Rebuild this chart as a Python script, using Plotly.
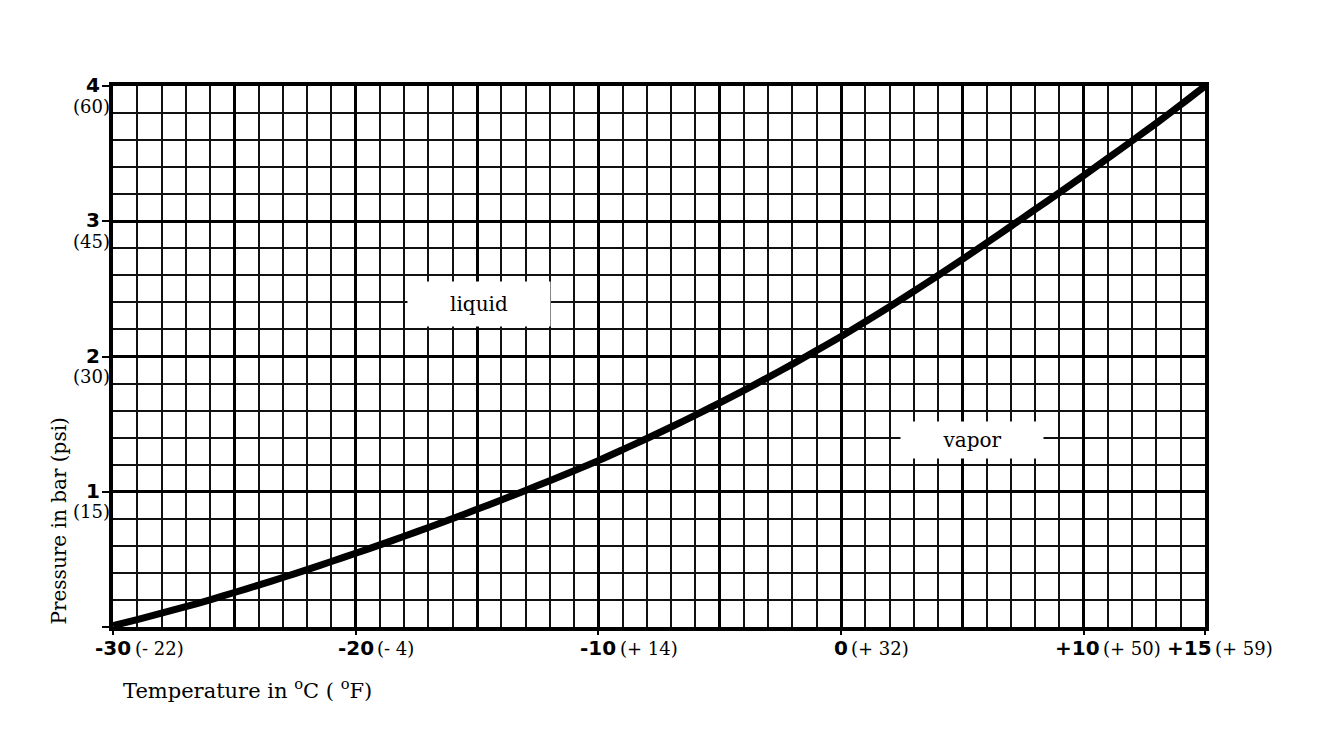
import plotly.graph_objects as go

# ---- data ----
temp_c = list(range(-30, 16))
pressure_bar = [0.010, 0.055, 0.102, 0.150, 0.201, 0.255, 0.310, 0.366, 0.424, 0.484,
                0.545, 0.607, 0.671, 0.736, 0.802, 0.870, 0.939, 1.010, 1.082, 1.155,
                1.230, 1.311, 1.394, 1.479, 1.567, 1.657, 1.750, 1.846, 1.944, 2.045,
                2.148, 2.257, 2.368, 2.482, 2.599, 2.718, 2.840, 2.963, 3.087, 3.212,
                3.338, 3.466, 3.595, 3.726, 3.861, 4.000]

x_tick_c = [-30, -20, -10, 0, 10, 15]
x_tick_c_text = ["-30", "-20", "-10", "0", "+10", "+15"]
x_tick_f_text = ["(- 22)", "(- 4)", "(+ 14)", "(+ 32)", "(+ 50)", "(+ 59)"]

y_tick_bar = [1, 2, 3, 4]
y_tick_bar_text = ["1", "2", "3", "4"]
y_tick_psi_text = ["(15)", "(30)", "(45)", "(60)"]

region_labels = ["liquid", "vapor"]
region_x = [-14.9, 5.4]
region_y = [2.39, 1.38]

BOLD = "DejaVu Sans"
SERIF = "DejaVu Serif"

fig = go.Figure()
fig.add_trace(go.Scatter(
    x=temp_c, y=pressure_bar, mode="lines",
    line=dict(color="black", width=7, shape="spline", smoothing=0.8),
    showlegend=False, hoverinfo="skip"))
# invisible trace that activates the overlay axis carrying the labelled tick marks
fig.add_trace(go.Scatter(x=[x_tick_c[0]], y=[0], xaxis="x2", mode="markers",
                         marker=dict(opacity=0), showlegend=False, hoverinfo="skip"))

annotations = []
char_w = {"-": 9, "+": 17, "0": 14, "1": 14, "2": 14, "3": 14, "5": 14}
label_shift = {10: -6, 15: -16}
for xv, bt, ft in zip(x_tick_c, x_tick_c_text, x_tick_f_text):
    w = sum(char_w.get(c, 14) for c in bt)
    shift = label_shift.get(xv, 0)
    annotations.append(dict(x=xv, y=0, xref="x", yref="paper", text="<b>%s</b>" % bt,
                            showarrow=False, xanchor="center", yanchor="middle",
                            xshift=shift, yshift=-21,
                            font=dict(family=BOLD, size=20, color="black")))
    annotations.append(dict(x=xv, y=0, xref="x", yref="paper", text=ft,
                            showarrow=False, xanchor="left", yanchor="middle",
                            xshift=shift + w / 2 + 1, yshift=-21,
                            font=dict(family=SERIF, size=18, color="black")))

for yv, bt, pt in zip(y_tick_bar, y_tick_bar_text, y_tick_psi_text):
    annotations.append(dict(x=0, y=yv, xref="paper", yref="y", text="<b>%s</b>" % bt,
                            showarrow=False, xanchor="right", yanchor="middle",
                            xshift=-11, yshift=1,
                            font=dict(family=BOLD, size=20, color="black")))
    annotations.append(dict(x=0, y=yv, xref="paper", yref="y", text=pt,
                            showarrow=False, xanchor="right", yanchor="middle",
                            xshift=-1, yshift=-20,
                            font=dict(family=SERIF, size=18, color="black")))

annotations.append(dict(x=0, y=0, xref="paper", yref="paper",
                        text="Temperature in <sup>o</sup>C ( <sup>o</sup>F)",
                        showarrow=False, xanchor="left", yanchor="middle",
                        xshift=8, yshift=-62,
                        font=dict(family=SERIF, size=21, color="black")))
annotations.append(dict(x=0, y=0, xref="paper", yref="paper",
                        text="Pressure in bar (psi)", textangle=-90,
                        showarrow=False, xanchor="center", yanchor="bottom",
                        xshift=-55, yshift=0,
                        font=dict(family=SERIF, size=20, color="black")))

box_w = [140, 140]
box_h = [42, 34]
for t, xv, yv, bw, bh in zip(region_labels, region_x, region_y, box_w, box_h):
    annotations.append(dict(x=xv, y=yv, xref="x", yref="y", text=t, showarrow=False,
                            bgcolor="white", width=bw, height=bh,
                            font=dict(family=SERIF, size=20, color="black")))

fig.update_layout(
    width=1328, height=754,
    margin=dict(l=105, r=131, t=78, b=135),
    paper_bgcolor="white", plot_bgcolor="white",
    showlegend=False,
    annotations=annotations,
    xaxis=dict(range=[-30, 15], tick0=-30, dtick=5, showgrid=True,
               gridcolor="black", gridwidth=3, showticklabels=False, ticks="",
               zeroline=False, showline=True, linecolor="black", linewidth=4,
               mirror=True,
               minor=dict(dtick=1, tick0=-30, showgrid=True, gridcolor="#111111",
                          gridwidth=1.6, ticks="")),
    xaxis2=dict(range=[-30, 15], overlaying="x", side="bottom", tickmode="array",
                tickvals=x_tick_c, ticks="outside", ticklen=7, tickwidth=2,
                tickcolor="black", showticklabels=False, showgrid=False,
                zeroline=False, showline=False),
    yaxis=dict(range=[0, 4], tick0=0, dtick=1, showgrid=True, gridcolor="black",
               gridwidth=3, showticklabels=False, ticks="outside", ticklen=7,
               tickwidth=2, tickcolor="black",
               zeroline=False, showline=True, linecolor="black", linewidth=4,
               mirror=True,
               minor=dict(dtick=0.2, tick0=0, showgrid=True, gridcolor="#111111",
                          gridwidth=1.6, ticks="")),
)

fig.write_html("out.html")
